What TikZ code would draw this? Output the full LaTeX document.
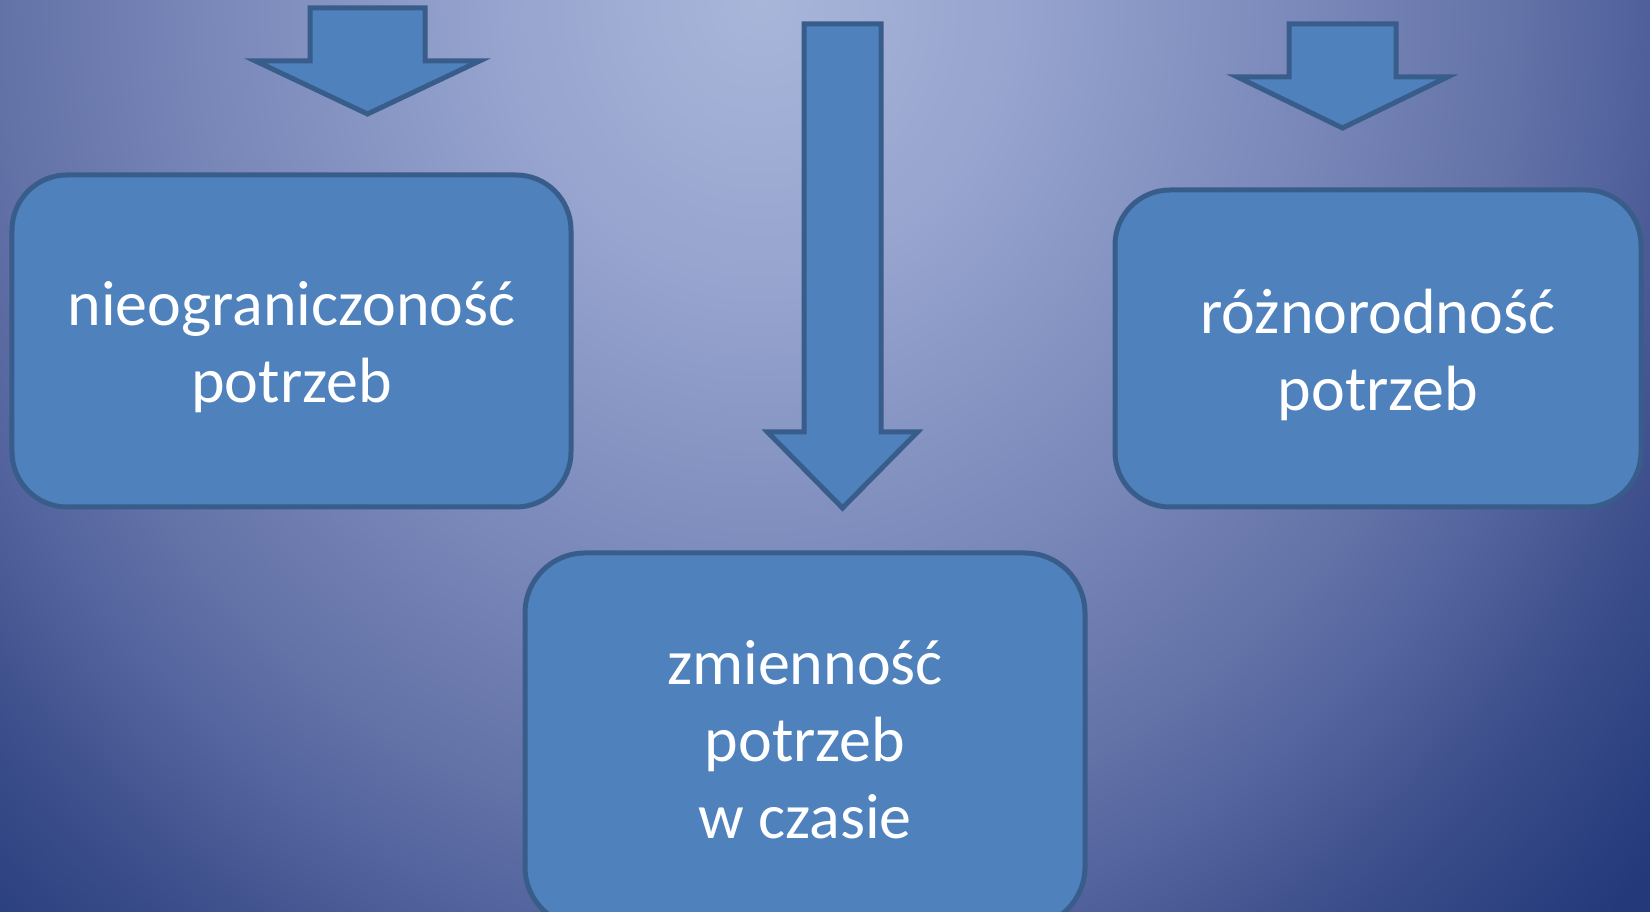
\documentclass[tikz,border=0pt]{standalone}
\usepackage{fontspec}
\setmainfont{Carlito}
\usetikzlibrary{positioning, calc, shapes}
\definecolor{boxfill}{HTML}{4F81BD}
\definecolor{boxline}{HTML}{385D8A}
\definecolor{bgA}{HTML}{A9B6DA}
\definecolor{bgB}{HTML}{97A5CF}
\definecolor{bgC}{HTML}{7F8DBE}
\definecolor{bgD}{HTML}{6574A8}
\definecolor{bgE}{HTML}{53639D}
\definecolor{bgF}{HTML}{3D4F8C}
\definecolor{bgG}{HTML}{23397A}
\pgfdeclareradialshading{slidebg}{\pgfpoint{0bp}{0bp}}{color(0bp)=(bgA); color(4.8bp)=(bgB); color(9.7bp)=(bgC); color(14.5bp)=(bgD); color(16.9bp)=(bgE); color(19.4bp)=(bgF); color(23.2bp)=(bgG); color(50bp)=(bgG)}
\tikzset{
    needbox/.style={draw=boxline, fill=boxfill, line width=0.05cm,
        rounded corners=0.55cm, inner sep=0pt, text=white, align=center,
        font=\fontsize{18.2pt}{21.9pt}\selectfont},
    needtext/.style={text=white, align=center, inner sep=0pt,
        font=\fontsize{18.2pt}{21.9pt}\selectfont},
    bigarrow/.style={draw=boxline, fill=boxfill, line width=0.05cm, line join=miter}
}
% x, top, half shaft, shoulder, half head, tip
\newcommand{\blockdown}[6]{
    \draw[bigarrow] (#1-#3,#2) -- (#1+#3,#2) -- (#1+#3,#4) -- (#1+#5,#4)
        -- (#1,#6) -- (#1-#5,#4) -- (#1-#3,#4) -- cycle;
}

\begin{document}
\begin{tikzpicture}
    \useasboundingbox (0,0) rectangle (16.5,9.12);
    \clip (0,0) rectangle (16.5,9.12);
    \fill[bgG] (0,0) rectangle (16.5,9.12);
    \shade[shading=slidebg] (7.6,9.12) ellipse (12.79 and 14.14);
    \node[needbox, minimum width=5.59cm, minimum height=3.32cm] (nieogr) at (2.915,5.71) {};
    \node[needtext] (nieogrtxt) at ([yshift=-0.06cm]nieogr.center) {nieograniczoność\\potrzeb};
    \node[needbox, minimum width=5.26cm, minimum height=3.17cm] (rozn) at (13.78,5.635) {};
    \node[needtext] (rozntxt) at ([yshift=-0.06cm]rozn.center) {różnorodność\\potrzeb};
    \node[needbox, minimum width=5.60cm, minimum height=3.74cm, rounded corners=0.6cm] (zmien) at (8.05,1.72) {zmienność\\potrzeb\\w czasie};
    \blockdown{3.675}{9.04}{0.575}{8.51}{1.12}{7.98}
    \blockdown{8.425}{8.88}{0.385}{4.80}{0.75}{4.04}
    \blockdown{13.425}{8.88}{0.535}{8.35}{1.05}{7.84}
\end{tikzpicture}
\end{document}
